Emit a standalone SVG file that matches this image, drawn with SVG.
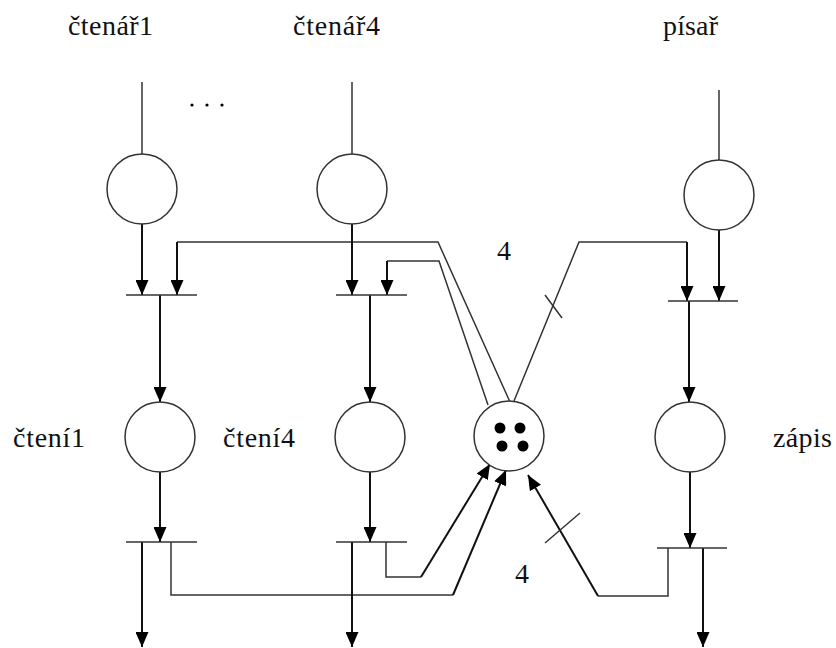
<svg xmlns="http://www.w3.org/2000/svg" width="836" height="648" viewBox="0 0 836 648">
  <style>
    text { font-family: "Liberation Serif", "Times New Roman", Times, serif; fill: #111; }
    .lbl { font-size: 28px; }
    .num { font-size: 28px; }
    .place { fill: #fff; stroke: #333; stroke-width: 1.5; }
    .bar { stroke: #333; stroke-width: 1.6; fill: none; }
    .arc { stroke: #111; stroke-width: 2; fill: none; }
    .thin { stroke: #333; stroke-width: 1.5; fill: none; }
    .token { fill: #000; }
  </style>
  <defs>
    <marker id="ah" markerUnits="userSpaceOnUse" markerWidth="16" markerHeight="13" refX="15" refY="6.5" orient="auto">
      <path d="M0,0 L15,6.5 L0,13 Z" fill="#000"/>
    </marker>
  </defs>

  <rect width="836" height="648" fill="#fff"/>

  <!-- labels -->
  <g id="labels">
    <text class="lbl" x="68" y="35" textLength="85" lengthAdjust="spacing">čtenář1</text>
    <text class="lbl" x="293" y="35" textLength="87" lengthAdjust="spacing">čtenář4</text>
    <text class="lbl" x="663" y="35" textLength="55" lengthAdjust="spacing">písař</text>
    <text class="lbl" x="13" y="447" textLength="72" lengthAdjust="spacing">čtení1</text>
    <text class="lbl" x="223" y="447" textLength="72" lengthAdjust="spacing">čtení4</text>
    <text class="lbl" x="773" y="447" textLength="59" lengthAdjust="spacing">zápis</text>
    <text class="num" x="497" y="260">4</text>
    <text class="num" x="515" y="583">4</text>
    <circle cx="192" cy="105" r="1.6" fill="#000"/>
    <circle cx="207" cy="105" r="1.6" fill="#000"/>
    <circle cx="222" cy="105" r="1.6" fill="#000"/>
  </g>

  <!-- arcs and connecting lines -->
  <g id="connectors">
    <!-- incoming lines from above -->
    <line class="thin" x1="142" y1="82" x2="142" y2="154"/>
    <line class="thin" x1="352" y1="82" x2="352" y2="154"/>
    <line class="thin" x1="719" y1="90" x2="719" y2="160"/>

    <!-- reader 1 -->
    <line class="arc" x1="142" y1="224" x2="142" y2="295" marker-end="url(#ah)"/>
    <polyline class="thin" points="510,402 438,242 177,242"/>
    <line class="arc" x1="177" y1="242" x2="177" y2="295" marker-end="url(#ah)"/>
    <line class="arc" x1="160" y1="295" x2="160" y2="402" marker-end="url(#ah)"/>
    <line class="arc" x1="160" y1="472" x2="160" y2="542" marker-end="url(#ah)"/>
    <line class="arc" x1="142" y1="542" x2="142" y2="647" marker-end="url(#ah)"/>
    <polyline class="thin" points="171,542 171,595 453,595"/>
    <line class="arc" x1="453" y1="595" x2="506" y2="470" marker-end="url(#ah)"/>

    <!-- reader 4 -->
    <line class="arc" x1="352" y1="224" x2="352" y2="295" marker-end="url(#ah)"/>
    <polyline class="thin" points="488,405 439,261 387,261"/>
    <line class="arc" x1="387" y1="261" x2="387" y2="295" marker-end="url(#ah)"/>
    <line class="arc" x1="370" y1="295" x2="370" y2="402" marker-end="url(#ah)"/>
    <line class="arc" x1="370" y1="472" x2="370" y2="542" marker-end="url(#ah)"/>
    <line class="arc" x1="352" y1="542" x2="352" y2="647" marker-end="url(#ah)"/>
    <polyline class="thin" points="386,542 386,577 421,577"/>
    <line class="arc" x1="421" y1="577" x2="490" y2="464" marker-end="url(#ah)"/>

    <!-- writer -->
    <line class="arc" x1="719" y1="230" x2="719" y2="301" marker-end="url(#ah)"/>
    <polyline class="thin" points="514,401 579,242 687,242"/>
    <line class="arc" x1="687" y1="242" x2="687" y2="301" marker-end="url(#ah)"/>
    <line class="thin" x1="545" y1="295" x2="562" y2="318"/>
    <line class="arc" x1="689" y1="301" x2="689" y2="402" marker-end="url(#ah)"/>
    <line class="arc" x1="690" y1="472" x2="690" y2="548" marker-end="url(#ah)"/>
    <line class="arc" x1="703" y1="548" x2="703" y2="647" marker-end="url(#ah)"/>
    <polyline class="thin" points="668,548 668,596 598,596"/>
    <line class="arc" x1="598" y1="596" x2="528" y2="475" marker-end="url(#ah)"/>
    <line class="thin" x1="545" y1="543" x2="580" y2="513"/>
  </g>

  <!-- transitions -->
  <g id="t-reader1-start"><line class="bar" x1="126" y1="295" x2="197" y2="295"/></g>
  <g id="t-reader4-start"><line class="bar" x1="336" y1="295" x2="407" y2="295"/></g>
  <g id="t-writer-start"><line class="bar" x1="668" y1="301" x2="738" y2="301"/></g>
  <g id="t-reader1-end"><line class="bar" x1="126" y1="542" x2="197" y2="542"/></g>
  <g id="t-reader4-end"><line class="bar" x1="336" y1="542" x2="407" y2="542"/></g>
  <g id="t-writer-end"><line class="bar" x1="657" y1="548" x2="727" y2="548"/></g>

  <!-- places -->
  <g id="p-reader1"><circle class="place" cx="142" cy="189" r="35"/></g>
  <g id="p-reader4"><circle class="place" cx="352" cy="189" r="35"/></g>
  <g id="p-writer"><circle class="place" cx="719" cy="195" r="35"/></g>
  <g id="p-read1"><circle class="place" cx="160" cy="437" r="35"/></g>
  <g id="p-read4"><circle class="place" cx="370" cy="437" r="35"/></g>
  <g id="p-write"><circle class="place" cx="690" cy="437" r="35"/></g>
  <g id="p-shared">
    <circle class="place" cx="509" cy="436" r="35"/>
    <circle class="token" cx="500" cy="428" r="5.5"/>
    <circle class="token" cx="520" cy="428" r="5.5"/>
    <circle class="token" cx="502" cy="446" r="5.5"/>
    <circle class="token" cx="523" cy="446" r="5.5"/>
  </g>
</svg>
